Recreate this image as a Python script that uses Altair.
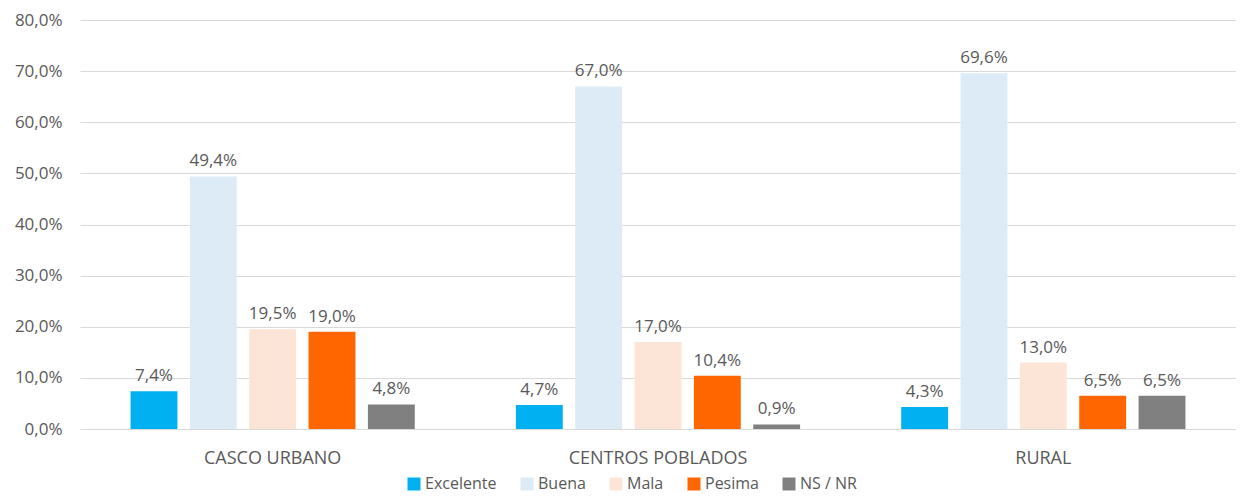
import altair as alt
import pandas as pd

zones = ["CASCO URBANO", "CENTROS POBLADOS", "RURAL"]
categories = ["Excelente", "Buena", "Mala", "Pesima", "NS / NR"]
colors = ["#00B0F0", "#DDEBF7", "#FCE4D6", "#FF6600", "#808080"]
values = {
    "CASCO URBANO": [0.074, 0.494, 0.195, 0.190, 0.048],
    "CENTROS POBLADOS": [0.047, 0.670, 0.170, 0.104, 0.009],
    "RURAL": [0.043, 0.696, 0.130, 0.065, 0.065],
}

rows = []
for z in zones:
    for c, v in zip(categories, values[z]):
        rows.append({"zona": z, "cat": c, "val": v})
df = pd.DataFrame(rows)

FONT = "Open Sans"
GREY = "#595959"

base = alt.Chart(df).transform_calculate(
    lbl="replace(format(datum.val, '.1%'), '.', ',')"
).encode(
    x=alt.X("zona:N", sort=zones, title=None,
            scale=alt.Scale(paddingInner=0.23, paddingOuter=0.115),
            axis=alt.Axis(labelAngle=0, labelFont=FONT, labelFontSize=18,
                          labelColor=GREY, labelPadding=20, ticks=False,
                          domain=False)),
    xOffset=alt.XOffset("cat:N", sort=categories,
                        scale=alt.Scale(paddingInner=0.21, paddingOuter=0.105)),
    y=alt.Y("val:Q", title=None,
            scale=alt.Scale(domain=[0, 0.8], nice=False),
            axis=alt.Axis(values=[i / 10 for i in range(9)],
                          labelExpr="replace(format(datum.value, '.1%'), '.', ',')",
                          labelFont=FONT, labelFontSize=17, labelColor=GREY,
                          labelPadding=18, ticks=False, domain=False,
                          gridColor="#D9D9D9", gridWidth=1)),
)

bars = base.mark_bar().encode(
    color=alt.Color("cat:N", sort=categories,
                    scale=alt.Scale(domain=categories, range=colors),
                    legend=alt.Legend(title=None, orient="none", direction="horizontal",
                                      legendX=326, legendY=456,
                                      symbolType="square", symbolSize=169,
                                      symbolStrokeWidth=0, symbolOpacity=1,
                                      labelFont=FONT, labelFontSize=16,
                                      labelColor=GREY, columnPadding=22,
                                      labelOffset=3))
)

labels = base.mark_text(baseline="bottom", dy=-6, font=FONT, fontSize=17,
                        color=GREY).encode(text="lbl:N")

chart = (bars + labels).properties(
    width=1156, height=409,
    autosize=alt.AutoSizeParams(type="none"),
    padding={"left": 72, "top": 12, "right": 0, "bottom": 65},
).configure(background="white").configure_view(strokeWidth=0)

chart.save("out.html", embed_options={"renderer": "svg", "actions": False})
